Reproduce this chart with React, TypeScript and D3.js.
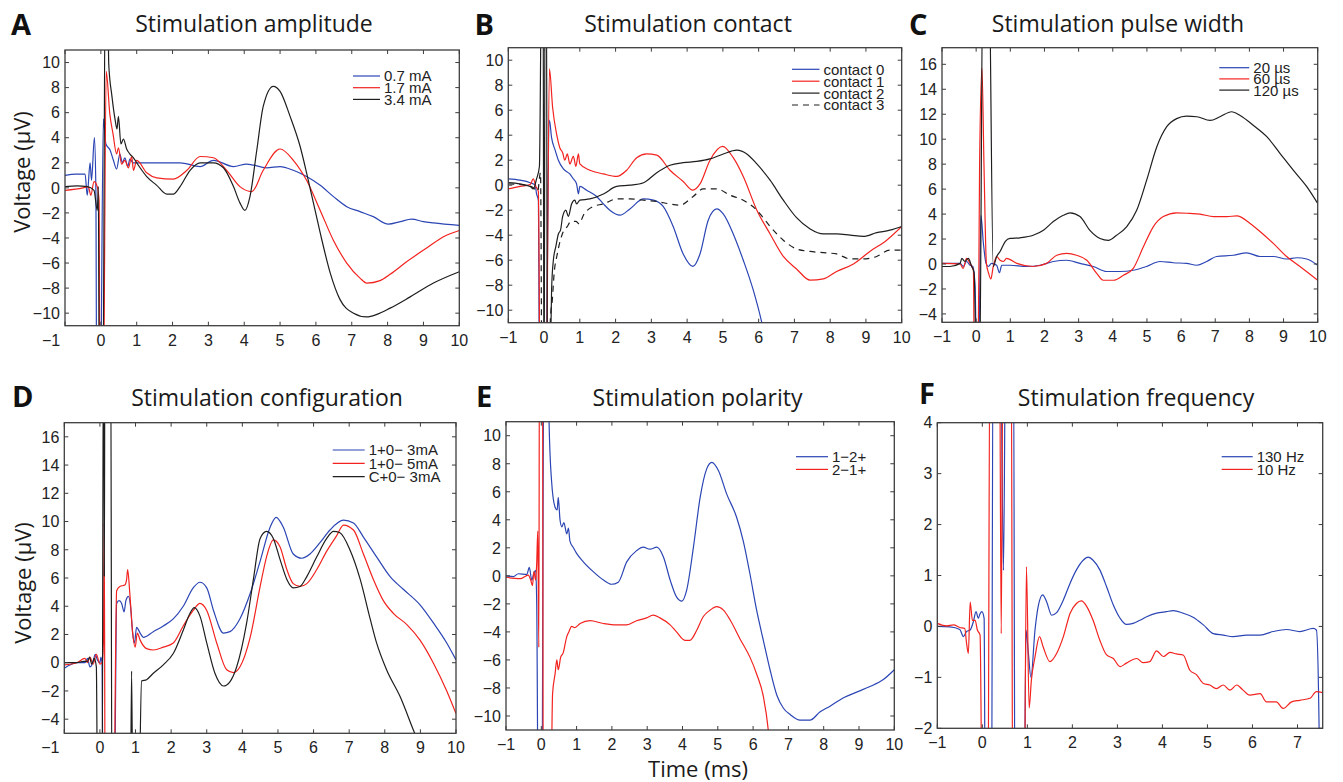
import React from 'react';
import * as d3 from 'd3';

type P = [number, number];

// ---------- Panel A: Stimulation amplitude ----------
const ampBlue: P[] = [[-1,1.0],[-0.7,1.1],[-0.44,1.1],[-0.38,-0.6],[-0.30,2.0],[-0.26,0.6],[-0.18,4.0],[-0.14,0.1],[-0.11,-20],[-0.02,-20],[0.07,5.5],[0.14,3.5],[0.26,3.0],[0.35,2.2],[0.44,1.5],[0.53,2.7],[0.6,2.0],[0.67,2.4],[0.75,1.7],[0.81,2.3],[0.9,2.0],[1.0,2.0],[1.5,2.0],[2.21,2.0],[2.77,1.7],[3.14,2.2],[3.70,1.7],[4.07,1.9],[4.63,1.6],[5.0,1.7],[5.37,1.4],[5.74,0.9],[6.12,0.2],[6.49,-0.7],[6.86,-1.5],[7.23,-1.9],[7.60,-2.3],[8.02,-2.9],[8.35,-2.7],[8.67,-2.5],[9.0,-2.7],[9.28,-2.8],[10,-3.0]];
const ampRed: P[] = [[-1,-0.2],[-0.5,0.0],[-0.35,0.1],[-0.28,-0.6],[-0.19,0.5],[-0.1,0.1],[-0.05,-1.0],[-0.02,-20],[0.06,-20],[0.15,9.3],[0.25,5.9],[0.34,4.3],[0.44,2.7],[0.49,3.2],[0.58,1.9],[0.67,2.2],[0.77,1.6],[0.86,2.5],[0.91,1.4],[1.0,2.2],[1.28,1.2],[1.56,0.8],[2.02,0.7],[2.40,1.4],[2.77,2.5],[3.14,2.4],[3.51,1.4],[3.88,0.1],[4.21,-0.3],[4.53,1.4],[5.0,3.1],[5.37,2.2],[5.74,0.6],[6.12,-1.8],[6.49,-4.2],[6.86,-6.0],[7.23,-7.2],[7.42,-7.6],[7.79,-7.4],[8.07,-6.9],[8.53,-5.9],[9.09,-4.8],[9.56,-3.9],[10,-3.4]];
const ampBlack: P[] = [[-1,0.1],[-0.66,0.15],[-0.38,0.1],[-0.19,-0.2],[-0.1,-1.8],[-0.07,0.1],[-0.04,-20],[0.05,-20],[0.13,20],[0.18,20],[0.22,9.9],[0.31,7.3],[0.40,5.4],[0.45,4.7],[0.49,5.7],[0.56,3.5],[0.63,3.9],[0.72,3.1],[0.81,2.7],[0.91,2.4],[1.0,2.0],[1.28,0.9],[1.56,0.2],[1.84,-0.5],[2.02,-0.5],[2.21,0.1],[2.49,1.4],[2.77,2.0],[3.14,2.0],[3.42,1.6],[3.70,0.1],[3.88,-1.2],[4.02,-1.8],[4.16,-0.7],[4.35,3.0],[4.53,6.5],[4.81,8.1],[5.0,7.7],[5.28,5.7],[5.56,3.3],[5.74,1.2],[5.93,-1.2],[6.12,-3.6],[6.40,-6.8],[6.67,-8.9],[7.05,-10.0],[7.42,-10.3],[7.70,-10.1],[8.07,-9.6],[8.63,-8.7],[9.28,-7.6],[10,-6.7]];

// ---------- Panel B: Stimulation contact ----------
const conBlue: P[] = [[-1,0.5],[-0.67,0.4],[-0.39,0.2],[-0.25,0.0],[-0.21,-0.7],[-0.16,-1.2],[-0.12,-20],[0.03,-20],[0.15,5.2],[0.21,3.8],[0.31,2.8],[0.40,2.0],[0.54,1.3],[0.72,0.9],[0.82,0.5],[0.91,0.1],[0.96,-0.7],[1.0,-0.1],[1.19,-0.4],[1.47,-0.9],[1.66,-1.5],[1.84,-2.0],[2.12,-2.4],[2.40,-1.9],[2.78,-1.1],[3.06,-1.2],[3.33,-1.7],[3.61,-3.3],[3.89,-5.5],[4.16,-6.5],[4.36,-5.5],[4.59,-2.8],[4.83,-1.9],[5.01,-2.3],[5.29,-3.9],[5.57,-6.0],[5.85,-8.4],[6.08,-10.9],[6.3,-14]];
const conRed: P[] = [[-1,-0.3],[-0.67,-0.1],[-0.39,0.05],[-0.30,0.5],[-0.23,-0.1],[-0.16,-0.5],[-0.1,-20],[0.05,-20],[0.15,9.3],[0.24,6.2],[0.35,4.1],[0.44,3.0],[0.52,2.6],[0.58,2.0],[0.65,2.5],[0.72,1.7],[0.82,2.3],[0.89,1.5],[0.96,2.5],[1.0,1.7],[1.28,1.2],[1.66,0.9],[2.03,0.7],[2.31,1.2],[2.59,2.2],[2.87,2.5],[3.15,2.4],[3.52,1.2],[3.89,0.3],[4.16,-0.4],[4.36,0.1],[4.64,2.0],[4.99,3.1],[5.29,2.2],[5.57,0.7],[5.95,-2.0],[6.32,-3.9],[6.69,-5.7],[7.06,-6.7],[7.44,-7.6],[7.81,-7.5],[8.18,-6.9],[8.65,-6.3],[9.11,-5.3],[9.58,-4.4],[10,-3.3]];
const conBlack: P[] = [[-1,0.2],[-0.67,0.1],[-0.39,-0.1],[-0.30,-0.3],[-0.21,0.5],[-0.13,1.5],[-0.06,20],[-0.03,20],[0.0,-20],[0.03,20],[0.06,20],[0.1,-20],[0.19,-12],[0.21,-8.4],[0.26,-6.0],[0.33,-4.9],[0.40,-3.9],[0.46,-3.6],[0.52,-2.5],[0.61,-2.0],[0.68,-2.5],[0.77,-1.5],[0.86,-1.2],[0.91,-1.5],[1.0,-1.2],[1.28,-1.1],[1.66,-0.7],[2.03,-0.1],[2.40,0.0],[2.78,0.2],[3.15,1.0],[3.52,1.6],[3.89,1.8],[4.27,1.9],[4.64,2.1],[5.01,2.5],[5.39,2.8],[5.67,2.5],[5.95,1.7],[6.32,0.4],[6.69,-1.2],[7.06,-2.6],[7.44,-3.5],[7.81,-3.9],[8.18,-3.9],[8.56,-4.0],[8.93,-4.1],[9.30,-3.8],[9.67,-3.6],[10,-3.3]];
const conDash: P[] = [[-1,0.1],[-0.5,0.0],[-0.3,-0.2],[-0.18,-0.5],[-0.1,1.0],[-0.05,-20],[0.1,-20],[0.18,-10.5],[0.23,-9.2],[0.28,-7.1],[0.37,-5.5],[0.51,-3.9],[0.65,-3.3],[0.75,-2.9],[0.89,-2.9],[0.98,-3.1],[1.10,-2.4],[1.38,-1.7],[1.66,-1.5],[2.03,-1.1],[2.40,-1.1],[2.78,-1.2],[3.15,-1.3],[3.52,-1.5],[3.80,-1.6],[4.17,-0.9],[4.45,-0.3],[4.83,-0.3],[5.20,-0.8],[5.57,-1.2],[5.95,-2.0],[6.32,-3.3],[6.69,-4.4],[7.06,-5.1],[7.44,-5.3],[7.81,-5.4],[8.18,-5.5],[8.56,-5.9],[8.93,-5.9],[9.30,-5.7],[9.67,-5.2],[10,-5.2]];

// ---------- Panel C: Stimulation pulse width ----------
const pwBlue: P[] = [[-1,0.05],[-0.47,0.05],[-0.38,-0.2],[-0.28,0.2],[-0.18,-0.1],[-0.10,-0.2],[-0.03,-1.8],[0.02,-10],[0.06,-10],[0.14,3.9],[0.21,1.7],[0.29,0.05],[0.36,-0.2],[0.45,0.05],[0.60,-0.1],[0.68,-0.7],[0.75,-0.1],[0.99,-0.1],[1.48,-0.2],[1.87,-0.1],[2.26,0.2],[2.65,0.3],[3.04,0.05],[3.43,-0.2],[3.82,-0.6],[4.21,-0.6],[4.60,-0.5],[4.99,-0.2],[5.38,0.2],[5.77,0.1],[6.16,0.05],[6.46,-0.1],[6.75,0.2],[7.04,0.6],[7.53,0.7],[7.92,0.9],[8.31,0.6],[8.70,0.6],[9.09,0.4],[9.39,0.5],[9.68,0.4],[10,-0.1]];
const pwRed: P[] = [[-1,0.05],[-0.47,0.0],[-0.38,-0.35],[-0.28,0.45],[-0.18,0.05],[-0.08,-0.5],[-0.05,-10],[0.05,-10],[0.10,7.8],[0.17,15.7],[0.23,7.8],[0.30,0.05],[0.36,-0.7],[0.43,-1.2],[0.50,-0.2],[0.60,0.6],[0.70,0.3],[0.80,0.2],[0.89,0.45],[1.19,0.05],[1.67,-0.2],[2.06,0.05],[2.36,0.7],[2.65,0.85],[2.94,0.7],[3.24,0.3],[3.53,-0.75],[3.72,-1.3],[4.02,-1.3],[4.31,-0.9],[4.60,-0.35],[4.90,1.4],[5.19,3.0],[5.48,3.8],[5.87,4.1],[6.26,4.05],[6.55,4.0],[6.95,3.8],[7.34,3.8],[7.63,3.85],[8.02,3.25],[8.31,2.6],[8.70,1.65],[9.09,0.6],[9.48,-0.2],[10,-1.3]];
const pwBlack: P[] = [[-1,-0.2],[-0.77,-0.2],[-0.47,0.05],[-0.42,0.45],[-0.33,0.2],[-0.23,0.45],[-0.13,-0.2],[-0.06,-0.7],[0.02,-10],[0.10,-10],[0.20,25],[0.37,25],[0.50,-0.2],[0.60,0.6],[0.70,1.0],[0.85,1.8],[0.99,2.05],[1.28,2.1],[1.67,2.3],[1.97,2.7],[2.26,3.4],[2.55,3.9],[2.75,4.1],[3.04,3.8],[3.33,2.7],[3.63,2.05],[3.87,1.9],[4.11,2.3],[4.41,3.0],[4.70,4.3],[4.99,6.7],[5.29,9.4],[5.58,11.0],[5.87,11.65],[6.16,11.85],[6.46,11.8],[6.85,11.5],[7.14,11.8],[7.48,12.2],[7.73,11.9],[8.12,11.1],[8.51,10.2],[8.90,8.85],[9.29,7.5],[9.68,6.2],[10,4.85]];

// ---------- Panel D: Stimulation configuration ----------
const cfgBlue: P[] = [[-1,-0.4],[-0.65,0.0],[-0.42,0.0],[-0.35,0.3],[-0.28,-0.3],[-0.20,0.0],[-0.13,0.6],[-0.07,0.2],[0.0,0.0],[0.03,0.4],[0.06,-0.1],[0.09,-12],[0.40,-12],[0.47,4.2],[0.54,4.4],[0.61,4.2],[0.68,3.6],[0.73,4.4],[0.80,4.7],[0.86,4.0],[0.92,2.1],[0.97,1.4],[1.03,2.5],[1.13,2.1],[1.22,1.8],[1.50,2.2],[1.78,2.6],[2.06,3.1],[2.34,4.0],[2.62,5.3],[2.81,5.7],[3.0,5.3],[3.19,3.7],[3.47,2.1],[3.65,2.2],[3.93,3.1],[4.22,4.9],[4.50,7.2],[4.78,9.6],[4.95,10.3],[5.15,9.6],[5.43,7.7],[5.67,7.4],[5.90,7.7],[6.18,8.5],[6.46,9.4],[6.84,10.1],[7.12,9.9],[7.40,8.9],[7.77,7.5],[8.15,6.1],[8.52,5.2],[8.99,4.1],[9.37,2.8],[9.74,1.4],[10,0.2]];
const cfgRed: P[] = [[-1,-0.15],[-0.65,0.0],[-0.42,0.3],[-0.35,0.0],[-0.28,0.4],[-0.19,-0.1],[-0.10,0.6],[0.0,-0.1],[0.06,0.0],[0.10,1.6],[0.12,9.9],[0.15,-12],[0.38,-12],[0.47,5.1],[0.56,5.4],[0.70,5.5],[0.75,5.9],[0.78,6.6],[0.84,4.9],[0.92,2.1],[0.99,1.1],[1.05,2.1],[1.13,1.6],[1.31,1.0],[1.50,0.9],[1.78,1.1],[2.06,1.4],[2.34,2.6],[2.62,3.7],[2.81,4.2],[3.0,3.7],[3.28,1.4],[3.56,-0.5],[3.75,-0.7],[3.93,-0.3],[4.22,1.8],[4.50,5.4],[4.68,7.5],[4.87,8.7],[5.06,8.2],[5.25,6.6],[5.43,5.6],[5.62,5.4],[5.81,5.6],[6.09,6.6],[6.37,7.9],[6.65,9.0],[6.84,9.75],[7.12,9.4],[7.40,7.7],[7.68,5.9],[7.96,4.4],[8.24,3.5],[8.62,2.7],[8.99,1.6],[9.37,-0.05],[9.74,-2.0],[10,-3.6]];
const cfgBlack: P[] = [[-1,0.0],[-0.65,0.0],[-0.46,0.1],[-0.35,0.1],[-0.29,0.4],[-0.23,-0.1],[-0.16,0.3],[-0.10,-0.3],[-0.06,-12],[0.06,-12],[0.10,25],[0.11,25],[0.125,6.1],[0.14,25],[0.30,25],[0.34,-12],[0.85,-12],[0.89,-0.6],[0.93,-12],[1.08,-12],[1.17,-1.3],[1.31,-1.2],[1.50,-0.75],[1.78,-0.15],[2.06,0.65],[2.34,2.3],[2.53,3.5],[2.65,3.9],[2.81,3.3],[3.0,1.4],[3.23,-0.75],[3.47,-1.65],[3.65,-1.35],[3.84,-0.3],[4.12,2.8],[4.31,5.9],[4.50,8.8],[4.68,9.3],[4.87,8.8],[5.06,7.3],[5.25,5.9],[5.43,5.3],[5.62,5.4],[5.81,6.1],[6.09,7.5],[6.37,8.8],[6.56,9.3],[6.74,9.2],[7.02,8.0],[7.31,5.9],[7.59,3.1],[7.77,1.4],[8.05,-0.5],[8.43,-2.4],[8.80,-4.75],[9.0,-6]];

// ---------- Panel E: Stimulation polarity ----------
const polBlue: P[] = [[-1,0.0],[-0.79,-0.05],[-0.65,0.15],[-0.41,0.1],[-0.34,0.6],[-0.27,-0.3],[-0.21,0.2],[-0.16,0.4],[-0.13,-1.9],[-0.08,-20],[0.01,-20],[0.08,20],[0.17,20],[0.22,11],[0.29,6.8],[0.39,4.9],[0.45,4.7],[0.48,5.6],[0.53,4.0],[0.58,3.5],[0.64,3.8],[0.72,3.0],[0.77,3.4],[0.81,2.5],[0.91,2.0],[1.0,1.6],[1.19,1.0],[1.47,0.3],[1.76,-0.3],[1.99,-0.6],[2.18,-0.45],[2.42,1.0],[2.70,1.8],[2.89,2.05],[3.08,1.9],[3.27,2.05],[3.46,1.35],[3.65,-0.3],[3.83,-1.5],[3.98,-1.8],[4.12,-1.0],[4.31,2.05],[4.50,5.6],[4.68,7.6],[4.83,8.1],[5.02,7.5],[5.25,5.85],[5.53,4.2],[5.72,2.5],[5.91,0.15],[6.10,-2.45],[6.29,-4.6],[6.48,-6.7],[6.67,-8.5],[6.86,-9.45],[7.05,-9.9],[7.33,-10.3],[7.61,-10.3],[7.90,-9.7],[8.18,-9.3],[8.56,-8.7],[8.93,-8.3],[9.31,-7.9],[9.69,-7.4],[10,-6.7]];
const polRed: P[] = [[-1,-0.1],[-0.60,-0.2],[-0.37,0.05],[-0.30,-0.3],[-0.25,-0.7],[-0.21,0.3],[-0.16,-0.3],[-0.13,0.9],[-0.10,3.2],[-0.07,-5.1],[-0.05,20],[0.03,20],[0.06,-20],[0.25,-20],[0.32,-8.4],[0.39,-7.0],[0.44,-6.0],[0.48,-6.7],[0.55,-5.8],[0.62,-5.5],[0.72,-4.35],[0.78,-4.0],[0.86,-3.6],[0.95,-3.7],[1.10,-3.4],[1.38,-3.2],[1.76,-3.4],[2.13,-3.5],[2.42,-3.5],[2.70,-3.2],[2.98,-3.0],[3.17,-2.8],[3.36,-3.0],[3.65,-3.5],[3.83,-4.0],[4.07,-4.6],[4.21,-4.6],[4.40,-3.9],[4.59,-2.9],[4.78,-2.45],[4.97,-2.2],[5.16,-2.45],[5.35,-3.15],[5.63,-4.5],[5.91,-5.8],[6.10,-7.0],[6.29,-8.6],[6.43,-11],[6.5,-13]];

// ---------- Panel F: Stimulation frequency ----------
const freqBlue: P[] = [[-1,0.0],[-0.72,-0.01],[-0.50,-0.06],[-0.42,-0.2],[-0.35,-0.1],[-0.27,-0.07],[-0.20,0.09],[-0.14,0.29],[-0.09,0.16],[-0.05,0.25],[-0.01,0.29],[0.04,0.16],[0.07,-5],[0.20,-5],[0.24,6],[0.40,6],[0.47,1.1],[0.52,6],[0.69,6],[0.73,-5],[0.92,-5],[0.97,-0.07],[1.02,-0.5],[1.08,-1.0],[1.17,-0.07],[1.24,0.39],[1.34,0.62],[1.43,0.48],[1.54,0.22],[1.65,0.27],[1.80,0.52],[1.95,0.85],[2.09,1.11],[2.24,1.3],[2.35,1.36],[2.46,1.3],[2.61,1.11],[2.76,0.78],[2.91,0.42],[3.06,0.16],[3.20,0.04],[3.35,0.06],[3.50,0.12],[3.65,0.19],[3.87,0.26],[4.09,0.29],[4.24,0.31],[4.46,0.26],[4.68,0.18],[4.91,0.03],[5.13,-0.14],[5.35,-0.17],[5.57,-0.2],[5.87,-0.17],[6.17,-0.17],[6.46,-0.1],[6.76,-0.06],[7.05,-0.1],[7.35,-0.04],[7.42,-0.07],[7.48,-2],[7.51,-5]];
const freqRed: P[] = [[-1,0.06],[-0.79,0.01],[-0.64,0.03],[-0.50,-0.02],[-0.39,-0.04],[-0.35,-0.33],[-0.31,-0.53],[-0.27,0.48],[-0.22,0.12],[-0.16,0.12],[-0.11,-0.07],[-0.05,-0.17],[0.01,-5],[0.12,-5],[0.17,6],[0.38,6],[0.42,-0.14],[0.46,6],[0.64,6],[0.68,-5],[0.92,-5],[0.98,1.17],[1.04,-1.6],[1.09,-1.05],[1.17,-0.6],[1.27,-0.2],[1.35,-0.4],[1.50,-0.69],[1.65,-0.53],[1.80,-0.2],[1.95,0.26],[2.09,0.45],[2.20,0.5],[2.32,0.39],[2.46,0.12],[2.61,-0.27],[2.76,-0.56],[2.91,-0.63],[3.06,-0.79],[3.20,-0.72],[3.43,-0.63],[3.57,-0.71],[3.72,-0.69],[3.87,-0.48],[4.02,-0.59],[4.17,-0.51],[4.31,-0.54],[4.46,-0.56],[4.61,-0.86],[4.76,-0.95],[4.91,-1.12],[5.05,-1.15],[5.20,-1.22],[5.35,-1.15],[5.50,-1.25],[5.65,-1.15],[5.79,-1.25],[5.94,-1.35],[6.17,-1.32],[6.31,-1.48],[6.53,-1.48],[6.68,-1.61],[6.87,-1.48],[7.05,-1.45],[7.28,-1.41],[7.42,-1.28],[7.56,-1.3]];

// ---------- Ticks & labels ----------
const xTicksLong = [-1, 0, 1, 2, 3, 4, 5, 6, 7, 8, 9, 10];
const xTicksF = [-1, 0, 1, 2, 3, 4, 5, 6, 7];
const yTicksSym = [-10, -8, -6, -4, -2, 0, 2, 4, 6, 8, 10];
const yTicksHigh = [-4, -2, 0, 2, 4, 6, 8, 10, 12, 14, 16];
const yTicksF = [-2, -1, 0, 1, 2, 3, 4];
const titles = ['Stimulation amplitude', 'Stimulation contact', 'Stimulation pulse width', 'Stimulation configuration', 'Stimulation polarity', 'Stimulation frequency'];
const letters = ['A', 'B', 'C', 'D', 'E', 'F'];
const legendA = ['0.7 mA', '1.7 mA', '3.4 mA'];
const legendB = ['contact 0', 'contact 1', 'contact 2', 'contact 3'];
const legendC = ['20 µs', '60 µs', '120 µs'];
const legendD = ['1+0\u2212 3mA', '1+0\u2212 5mA', 'C+0\u2212 3mA'];
const legendE = ['1\u22122+', '2\u22121+'];
const legendF = ['130 Hz', '10 Hz'];

const BLUE = '#2b45b4';
const RED = '#f2231f';
const BLACK = '#1e1e1e';
const AXIS = '#3d3d3d';
const SANS = '"Liberation Sans", Arial, sans-serif';
const HUM = '"Open Sans", "Noto Sans", sans-serif';

interface Series { data: P[]; color: string; dash?: string; label: string }
interface Panel {
  letter: string; title: string;
  box: { l: number; t: number; r: number; b: number };
  xDomain: [number, number]; yDomain: [number, number];
  xTicks: number[]; yTicks: number[];
  series: Series[];
  legend: { x: number; y: number; dy: number; len: number };
  titlePos: [number, number]; letterPos: [number, number];
  firstXShift: number;
}

const mk = (labels: string[], datas: P[][], colors: string[], dashes: (string | undefined)[] = []) =>
  datas.map((d, i) => ({ data: d, color: colors[i], dash: dashes[i], label: labels[i] }));

const panels: Panel[] = [
  {
    letter: letters[0], title: titles[0], box: { l: 65, t: 50, r: 459.3, b: 325.7 },
    xDomain: [-1, 10], yDomain: [-11, 11], xTicks: xTicksLong, yTicks: yTicksSym,
    series: mk(legendA, [ampBlue, ampRed, ampBlack], [BLUE, RED, BLACK]),
    legend: { x: 353, y: 76, dy: 11.7, len: 27 }, titlePos: [254, 32], letterPos: [11, 34.5], firstXShift: -14,
  },
  {
    letter: letters[1], title: titles[1], box: { l: 508.3, t: 47.7, r: 901.7, b: 322.7 },
    xDomain: [-1, 10], yDomain: [-11, 11], xTicks: xTicksLong, yTicks: yTicksSym,
    series: mk(legendB, [conBlue, conRed, conBlack, conDash], [BLUE, RED, BLACK, BLACK], [undefined, undefined, undefined, '6,5']),
    legend: { x: 792, y: 69.3, dy: 11.9, len: 27.5 }, titlePos: [688, 32], letterPos: [474.5, 34.5], firstXShift: 0,
  },
  {
    letter: letters[2], title: titles[2], box: { l: 942, t: 47.7, r: 1317.7, b: 322.3 },
    xDomain: [-1, 10], yDomain: [-4.67, 17.33], xTicks: xTicksLong, yTicks: yTicksHigh,
    series: mk(legendC, [pwBlue, pwRed, pwBlack], [BLUE, RED, BLACK]),
    legend: { x: 1219.3, y: 67.7, dy: 11.2, len: 30 }, titlePos: [1118, 32], letterPos: [909, 34.5], firstXShift: 0,
  },
  {
    letter: letters[3], title: titles[3], box: { l: 64.3, t: 422.7, r: 456, b: 733.3 },
    xDomain: [-1, 10], yDomain: [-5, 17], xTicks: xTicksLong, yTicks: yTicksHigh,
    series: mk(legendD, [cfgBlue, cfgRed, cfgBlack], [BLUE, RED, BLACK]),
    legend: { x: 332.7, y: 450, dy: 13.3, len: 32 }, titlePos: [267, 406], letterPos: [12, 406.5], firstXShift: -14,
  },
  {
    letter: letters[4], title: titles[4], box: { l: 506, t: 421.7, r: 894.3, b: 730 },
    xDomain: [-1, 10], yDomain: [-11, 11], xTicks: xTicksLong, yTicks: yTicksSym,
    series: mk(legendE, [polBlue, polRed], [BLUE, RED]),
    legend: { x: 796, y: 456.7, dy: 12.7, len: 32 }, titlePos: [697.5, 406], letterPos: [476, 406.5], firstXShift: 0,
  },
  {
    letter: letters[5], title: titles[5], box: { l: 937.3, t: 422.7, r: 1322.7, b: 728.3 },
    xDomain: [-1, 7.56], yDomain: [-2, 4], xTicks: xTicksF, yTicks: yTicksF,
    series: mk(legendF, [freqBlue, freqRed], [BLUE, RED]),
    legend: { x: 1221.7, y: 456.7, dy: 12.7, len: 31 }, titlePos: [1136, 406], letterPos: [919, 403.5], firstXShift: 0,
  },
];

const fmt = (v: number) => String(v).replace('-', '\u2212');

function PanelView({ p }: { p: Panel }) {
  const { l, t, r, b } = p.box;
  const x = d3.scaleLinear().domain(p.xDomain).range([l, r]);
  const y = d3.scaleLinear().domain(p.yDomain).range([b, t]);
  const line = d3.line<P>().x(d => x(d[0])).y(d => y(d[1])).curve(d3.curveMonotoneX);
  const clipId = `clip-${p.letter}`;
  const tl = 4;
  return (
    <g>
      <defs>
        <clipPath id={clipId}>
          <rect x={l} y={t} width={r - l} height={b - t} />
        </clipPath>
      </defs>
      <text x={p.letterPos[0]} y={p.letterPos[1]} fontFamily={HUM} fontWeight={700} fontSize={29} fill="#111">{p.letter}</text>
      <text x={p.titlePos[0]} y={p.titlePos[1]} fontFamily={HUM} fontSize={23} textAnchor="middle" fill="#1a1a1a">{p.title}</text>
      <g clipPath={`url(#${clipId})`}>
        {p.series.map((s, i) => (
          <path key={i} d={line(s.data) || ''} fill="none" stroke={s.color} strokeWidth={1.2}
            strokeDasharray={s.dash} strokeLinejoin="round" />
        ))}
      </g>
      <rect x={l} y={t} width={r - l} height={b - t} fill="none" stroke={AXIS} strokeWidth={1.3} />
      {p.xTicks.map((v, i) => (
        <g key={`x${i}`}>
          <line x1={x(v)} x2={x(v)} y1={b} y2={b - tl} stroke={AXIS} strokeWidth={1} />
          <line x1={x(v)} x2={x(v)} y1={t} y2={t + tl} stroke={AXIS} strokeWidth={1} />
          <text x={x(v) + (i === 0 ? p.firstXShift : 0)} y={b + 20} fontFamily={SANS} fontSize={16}
            textAnchor="middle" fill="#222">{fmt(v)}</text>
        </g>
      ))}
      {p.yTicks.map((v, i) => (
        <g key={`y${i}`}>
          <line x1={l} x2={l + tl} y1={y(v)} y2={y(v)} stroke={AXIS} strokeWidth={1} />
          <line x1={r} x2={r - tl} y1={y(v)} y2={y(v)} stroke={AXIS} strokeWidth={1} />
          <text x={l - 5} y={y(v)} dy="0.36em" fontFamily={SANS} fontSize={16} textAnchor="end" fill="#222">{fmt(v)}</text>
        </g>
      ))}
      {p.series.map((s, i) => {
        const ly = p.legend.y + i * p.legend.dy;
        return (
          <g key={`lg${i}`}>
            <line x1={p.legend.x} x2={p.legend.x + p.legend.len} y1={ly} y2={ly} stroke={s.color}
              strokeWidth={1.2} strokeDasharray={s.dash} />
            <text x={p.legend.x + p.legend.len + 4} y={ly} dy="0.36em" fontFamily={SANS} fontSize={15}
              fill="#222">{s.label}</text>
          </g>
        );
      })}
    </g>
  );
}

export default function App() {
  return (
    <svg width={1343} height={782} viewBox="0 0 1343 782"
      style={{ position: 'absolute', left: 0, top: 0, background: '#fff' }}>
      <rect x={0} y={0} width={1343} height={782} fill="#fff" />
      {panels.map(p => <PanelView key={p.letter} p={p} />)}
      <text transform="translate(30,172) rotate(-90)" fontFamily={HUM} fontSize={22} textAnchor="middle" fill="#1a1a1a">Voltage (µV)</text>
      <text transform="translate(31,583) rotate(-90)" fontFamily={HUM} fontSize={22} textAnchor="middle" fill="#1a1a1a">Voltage (µV)</text>
      <text x={698} y={777} fontFamily={HUM} fontSize={22} textAnchor="middle" fill="#1a1a1a">Time (ms)</text>
    </svg>
  );
}
